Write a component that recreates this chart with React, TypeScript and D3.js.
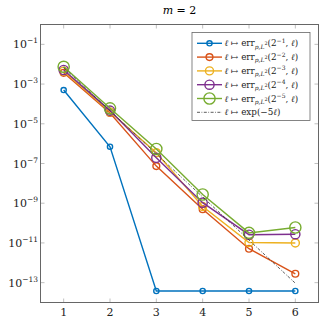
import React from 'react';
import * as d3 from 'd3';

// ell = 1..6
const ells = [1, 2, 3, 4, 5, 6];

// err_{p,L2}(2^-k, ell)
const err1 = [5e-4, 7e-7, 3.8e-14, 3.8e-14, 3.8e-14, 3.8e-14];
const err2 = [3.7e-3, 3.5e-5, 7.4e-8, 5e-10, 5.1e-12, 2.8e-13];
const err3 = [4.5e-3, 4e-5, 3.5e-7, 6.8e-10, 1.05e-11, 1e-11];
const err4 = [5.1e-3, 4.6e-5, 1.95e-7, 1.07e-9, 2.6e-11, 2.75e-11];
const err5 = [7.4e-3, 6e-5, 5.4e-7, 2.75e-9, 3.2e-11, 6e-11];
// reference rate exp(-5 ell)
const refRate = [6.74e-3, 4.54e-5, 3.06e-7, 2.06e-9, 1.39e-11, 9.36e-14];

const seriesExps = ['−1', '−2', '−3', '−4', '−5'];
const seriesColors = ['#0072BD', '#D95319', '#EDB120', '#7E2F8E', '#77AC30'];
const markerR = [2.6, 3.4, 4, 4.6, 5.6];

const yTicks = [1e-1, 1e-3, 1e-5, 1e-7, 1e-9, 1e-11, 1e-13];
const yTickExps = ['−1', '−3', '−5', '−7', '−9', '−11', '−13'];

const W = 319;
const H = 320;
const margin = { left: 40.5, right: 0.5, top: 24.5, bottom: 17.5 };
const serif = "'DejaVu Serif', serif";

const App = () => {
  const x = d3.scaleLinear().domain([0.5, 6.5]).range([margin.left, W - margin.right]);
  const y = d3.scaleLog().domain([1e-14, 1]).range([H - margin.bottom, margin.top]);
  const line = d3
    .line<number>()
    .x((d, i) => x(ells[i]))
    .y((d) => y(d));

  const series = [err1, err2, err3, err4, err5];
  const x0 = margin.left;
  const x1 = W - margin.right;
  const y0 = H - margin.bottom;
  const y1 = margin.top;

  // legend box
  const lg = { x: 192, y: 32.5, w: 118, h: 88, row: 13.8 };
  const fs = 8.8;

  return (
    <svg width={W} height={H} style={{ position: 'absolute', left: 0, top: 0, background: '#fff' }} fontFamily={serif}>
      {/* title */}
      <text x={(x0 + x1) / 2} y={13.8} textAnchor="middle" fontSize={11}>
        <tspan fontStyle="italic">m</tspan> = 2
      </text>

      {/* ticks, inside on all sides */}
      {ells.map((t) => (
        <g key={'xt' + t} stroke="#b0b0b0" strokeWidth={0.8}>
          <line x1={x(t)} x2={x(t)} y1={y0} y2={y0 - 4} />
          <line x1={x(t)} x2={x(t)} y1={y1} y2={y1 + 4} />
        </g>
      ))}
      {yTicks.map((t) => (
        <g key={'yt' + t} stroke="#b0b0b0" strokeWidth={0.8}>
          <line x1={x0} x2={x0 + 4} y1={y(t)} y2={y(t)} />
          <line x1={x1} x2={x1 - 4} y1={y(t)} y2={y(t)} />
        </g>
      ))}

      {/* tick labels */}
      {ells.map((t) => (
        <text key={'xl' + t} x={x(t)} y={316} textAnchor="middle" fontSize={11} fill="#222">
          {t}
        </text>
      ))}
      {yTicks.map((t, i) => (
        <text key={'yl' + t} x={38} y={y(t) + 4} textAnchor="end" fontSize={11} fill="#222">
          10<tspan dy={-5} fontSize={7.5}>{yTickExps[i]}</tspan>
        </text>
      ))}

      {/* data */}
      {series.map((s, k) => (
        <g key={'s' + k} stroke={seriesColors[k]} fill="none" strokeWidth={1.4}>
          <path d={line(s) || ''} />
          {s.map((v, i) => (
            <circle key={i} cx={x(ells[i])} cy={y(v)} r={markerR[k]} />
          ))}
        </g>
      ))}
      <path d={line(refRate) || ''} fill="none" stroke="#333" strokeWidth={0.8} strokeDasharray="3 1.5 0.8 1.5" />

      {/* axis box */}
      <rect x={x0} y={y1} width={x1 - x0} height={y0 - y1} fill="none" stroke="#666" strokeWidth={1} />

      {/* legend */}
      <rect x={lg.x} y={lg.y} width={lg.w} height={lg.h} fill="#fff" stroke="#666" strokeWidth={0.8} />
      {seriesExps.map((e, k) => {
        const cy = lg.y + 10.8 + k * lg.row;
        return (
          <g key={'lg' + k}>
            <line x1={197} x2={222} y1={cy} y2={cy} stroke={seriesColors[k]} strokeWidth={1.4} />
            <circle cx={209.5} cy={cy} r={markerR[k]} stroke={seriesColors[k]} strokeWidth={1.4} fill="none" />
            <text x={224.5} y={cy + 3} fontSize={fs} fill="#222">
              <tspan fontStyle="italic">ℓ</tspan>
              <tspan> ↦ err</tspan>
              <tspan dy={2.2} fontSize={6} fontStyle="italic">p</tspan>
              <tspan fontSize={6}>,</tspan>
              <tspan fontSize={6} fontStyle="italic">L</tspan>
              <tspan dy={-3.2} fontSize={4.8}>2</tspan>
              <tspan dy={1}>(2</tspan>
              <tspan dy={-3.6} fontSize={6}>{e}</tspan>
              <tspan dy={3.6}>, </tspan>
              <tspan fontStyle="italic">ℓ</tspan>
              <tspan>)</tspan>
            </text>
          </g>
        );
      })}
      {(() => {
        const cy = lg.y + 10.8 + 5 * lg.row;
        return (
          <g>
            <line x1={197} x2={222} y1={cy} y2={cy} stroke="#333" strokeWidth={0.8} strokeDasharray="3 1.5 0.8 1.5" />
            <text x={224.5} y={cy + 3} fontSize={fs} fill="#222">
              <tspan fontStyle="italic">ℓ</tspan>
              <tspan> ↦ exp(−5</tspan>
              <tspan fontStyle="italic">ℓ</tspan>
              <tspan>)</tspan>
            </text>
          </g>
        );
      })()}
    </svg>
  );
};

export default App;
